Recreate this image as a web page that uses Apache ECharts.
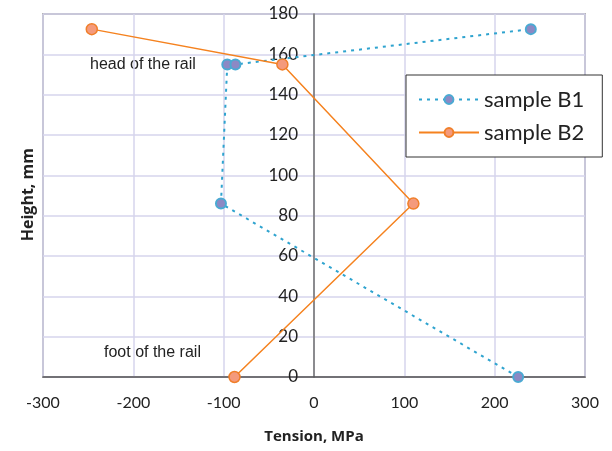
<!DOCTYPE html>
<html>
<head>
<meta charset="utf-8">
<script src="https://cdn.jsdelivr.net/npm/echarts@6/dist/echarts.min.js"></script>
<style>
  html, body { margin: 0; padding: 0; background: #fff; }
  #chart { width: 612px; height: 451px; }
</style>
</head>
<body>
<div id="chart"></div>
<script>
// data: [tension MPa, height mm]
var sampleB1 = [[226, 0], [-103, 86], [-96, 155], [-87, 155], [240, 172.5]];
var sampleB2 = [[-88, 0], [110, 86], [-35, 155], [-246, 172.5]];
var seriesNames = ['sample B1', 'sample B2'];
var xTicks = { min: -300, max: 300, step: 100 };
var yTicks = { min: 0, max: 180, step: 20 };

var chart = echarts.init(document.getElementById('chart'));
var gridColor = '#d6d4ec';
var textColor = '#222';

var gridLeft = 43, gridRight = 27;
var plotWidth = 612 - gridLeft - gridRight;
// y axis sits on x = 0
var zeroOffset = plotWidth * (0 - xTicks.min) / (xTicks.max - xTicks.min);

var option = {
  animation: false,
  grid: {
    left: gridLeft, right: gridRight, top: 14, bottom: 74,
    show: true, borderColor: '#7f7f7f', borderWidth: 1.5
  },
  xAxis: {
    type: 'value',
    min: xTicks.min, max: xTicks.max, interval: xTicks.step,
    axisLine: { onZero: false, lineStyle: { color: '#555', width: 1.5 } },
    axisTick: { show: false },
    axisLabel: { color: textColor, fontSize: 16, fontFamily: 'Lato', margin: 18 },
    splitLine: { lineStyle: { color: gridColor, width: 1.5 } },
    name: 'Tension, MPa',
    nameLocation: 'middle',
    nameGap: 52,
    nameTextStyle: { color: textColor, fontSize: 15, fontWeight: 'bold', fontFamily: 'Open Sans' }
  },
  yAxis: {
    type: 'value',
    min: yTicks.min, max: yTicks.max, interval: yTicks.step,
    offset: -zeroOffset,
    axisLine: { onZero: false, lineStyle: { color: '#6f6f6f', width: 1.5 } },
    axisTick: { show: false },
    axisLabel: { color: textColor, fontSize: 17, fontFamily: 'Lato', margin: 16 },
    splitLine: { lineStyle: { color: gridColor, width: 1.5 } }
  },
  legend: {
    orient: 'vertical',
    left: 406, top: 75,
    padding: [12, 18, 12, 12],
    itemGap: 8,
    itemWidth: 60, itemHeight: 11,
    borderColor: '#333', borderWidth: 1,
    backgroundColor: '#fff',
    textStyle: { color: textColor, fontSize: 22, fontFamily: 'Lato', lineHeight: 25 },
    data: seriesNames
  },
  graphic: [
    {
      type: 'text', left: 20, top: 148, rotation: Math.PI / 2,
      style: { text: 'Height, mm', fill: textColor, font: 'bold 16px "Open Sans"' }
    },
    {
      type: 'text', left: 90, top: 57,
      style: { text: 'head of the rail', fill: textColor, font: '16px "Liberation Sans"' }
    },
    {
      type: 'text', left: 104, top: 345,
      style: { text: 'foot of the rail', fill: textColor, font: '16px "Liberation Sans"' }
    }
  ],
  series: [
    {
      name: seriesNames[0],
      type: 'line',
      data: sampleB1,
      symbol: 'circle', symbolSize: 10,
      lineStyle: { color: '#2ea3cf', width: 2, type: [3, 5] },
      itemStyle: { color: '#8c89c4', borderColor: '#4aaad3', borderWidth: 2 },
      z: 3
    },
    {
      name: seriesNames[1],
      type: 'line',
      data: sampleB2,
      symbol: 'circle', symbolSize: 11,
      lineStyle: { color: '#f5821f', width: 1.5 },
      itemStyle: { color: '#f49a7c', borderColor: '#f07f2a', borderWidth: 1.5 },
      z: 4
    }
  ]
};

chart.setOption(option);
</script>
</body>
</html>
